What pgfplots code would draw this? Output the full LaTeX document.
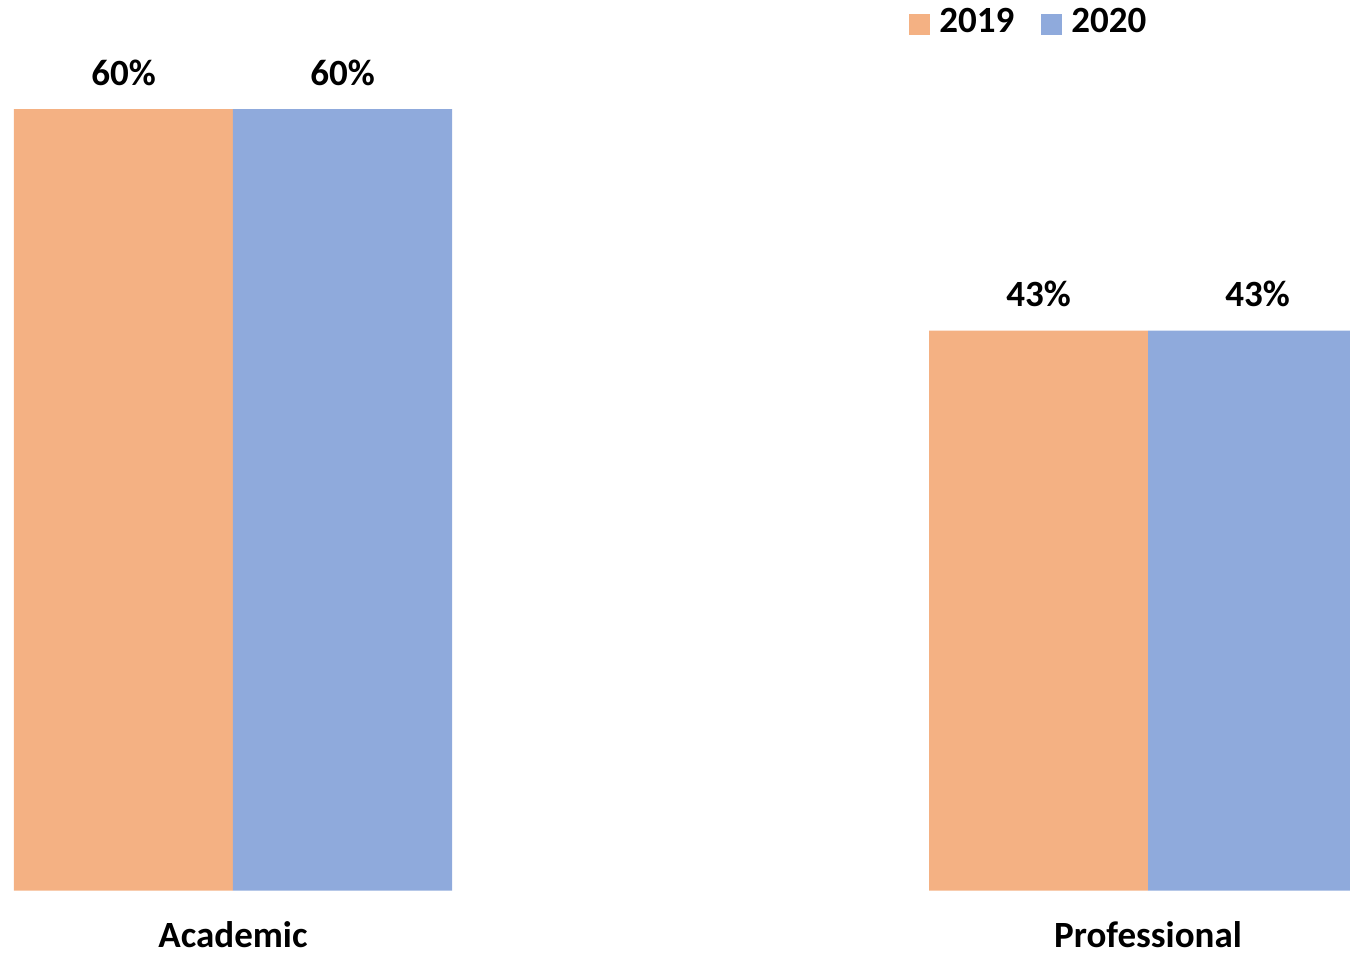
\documentclass[border=0pt]{standalone}
\usepackage{pgfplots}
\pgfplotsset{compat=1.18}
\usepackage{fontspec}
\setmainfont{Carlito}
\definecolor{c2019}{HTML}{F4B183}
\definecolor{c2020}{HTML}{8FAADC}
\newcommand{\lblfont}{\fontsize{18.5}{22}\selectfont\bfseries}
\begin{document}
\begin{tikzpicture}
\begin{axis}[
  scale only axis,
  width=675pt, height=476.5pt,
  xmin=-0.25464, xmax=1.22077,
  ymin=-4.80, ymax=68.37,
  ybar=0pt, bar width=109.5pt,
  axis line style={draw=none},
  major tick length=0pt,
  ytick=\empty,
  xtick={0,1}, xticklabels={Academic,Professional},
  xticklabel style={anchor=base, yshift=3pt, inner sep=0pt, font=\lblfont},
  nodes near coords={\pgfmathprintnumber[assume math mode=true]{\pgfplotspointmeta}\%},
  every node near coord/.append style={anchor=base, yshift=12pt, inner sep=0pt, font=\lblfont, black},
  legend columns=2,
  legend style={at={(0.6733,0.9915)}, anchor=north west, draw=none, fill=none,
    inner sep=0pt, nodes={inner sep=0pt}, font=\lblfont,
    /tikz/every odd column/.append style={column sep=4.5pt},
    /tikz/every even column/.append style={column sep=13.5pt}},
  legend image code/.code={\fill[#1] (0pt,-6.5pt) rectangle (10.5pt,4pt);},
]
\addplot[fill=c2019, draw=none] coordinates {(0,60) (1,43)};
\addplot[fill=c2020, draw=none] coordinates {(0,60) (1,43)};
\legend{2019,2020}
\end{axis}
\end{tikzpicture}
\end{document}
